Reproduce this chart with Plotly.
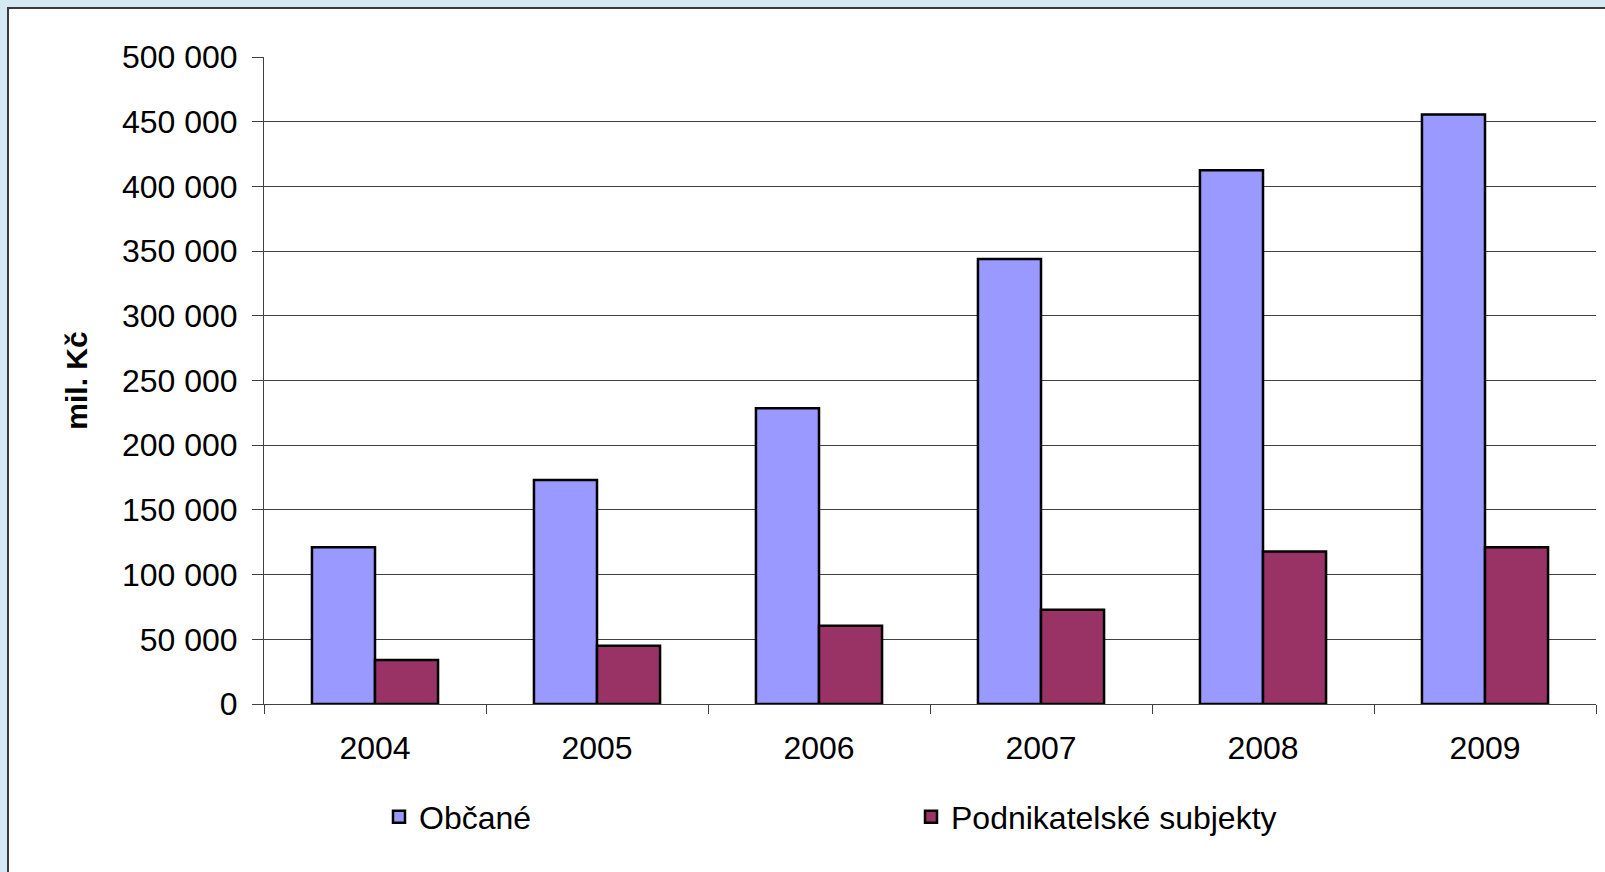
import plotly.graph_objects as go

years = ["2004", "2005", "2006", "2007", "2008", "2009"]
obcane = [121200, 173200, 228500, 343900, 412500, 455500]
podnikatelske = [34000, 45000, 60500, 72800, 117800, 121200]
y_tick_vals = [0, 50000, 100000, 150000, 200000, 250000, 300000, 350000, 400000, 450000, 500000]
y_tick_text = ["0", "50 000", "100 000", "150 000", "200 000", "250 000",
               "300 000", "350 000", "400 000", "450 000", "500 000"]

FONT = "Liberation Sans, Arial, sans-serif"
W, H = 1605, 872
L, R, T, B = 264, 9, 57, 168
pw, ph = W - L - R, H - T - B

fig = go.Figure()
fig.add_trace(go.Bar(name="Občané", x=years, y=obcane,
                     marker=dict(color="#9999FF", line=dict(color="#000000", width=2.5))))
fig.add_trace(go.Bar(name="Podnikatelské subjekty", x=years, y=podnikatelske,
                     marker=dict(color="#993366", line=dict(color="#000000", width=2.5))))

# white panel with border over light-blue background
fig.add_shape(type="rect", xref="paper", yref="paper", layer="below",
              x0=(8 - L) / pw, x1=(W + 20 - L) / pw,
              y0=(T + ph - (H + 20)) / ph, y1=(T + ph - 8) / ph,
              fillcolor="white", line=dict(color="#3a3a3a", width=2))

fig.update_layout(
    width=W, height=H,
    margin=dict(l=L, r=R, t=T, b=B),
    paper_bgcolor="#d5e9f5",
    plot_bgcolor="rgba(0,0,0,0)",
    barmode="group",
    bargap=0.432,
    bargroupgap=0,
    font=dict(family=FONT, size=32, color="#000000"),
    showlegend=True,
    legend=dict(orientation="h", x=(379 - L) / pw, xanchor="left",
                y=(T + ph - 817) / ph, yanchor="middle",
                font=dict(family=FONT, size=32, color="#000000"),
                entrywidth=487, entrywidthmode="pixels",
                bgcolor="rgba(0,0,0,0)", traceorder="normal"),
    xaxis=dict(type="category", showgrid=False, showline=True, linecolor="#404040",
               linewidth=1, ticks="outside", tickson="boundaries", ticklen=9,
               tickcolor="#404040", tickfont=dict(family=FONT, size=32),
               ticklabelstandoff=16, fixedrange=True),
    yaxis=dict(range=[0, 500000], tickvals=y_tick_vals, ticktext=y_tick_text,
               showgrid=True, gridcolor="#404040", gridwidth=1,
               showline=True, linecolor="#404040", linewidth=1,
               ticks="outside", ticklen=11, tickcolor="#404040",
               tickfont=dict(family=FONT, size=32), ticklabelstandoff=8,
               zeroline=False,
               title=dict(text="<b>mil. Kč</b>", font=dict(family=FONT, size=30),
                          standoff=25),
               fixedrange=True),
)

fig.write_html("out.html",
               config={"displayModeBar": False},
               post_script="document.body.style.margin='0';"
                           "document.body.style.overflow='hidden';"
                           "document.body.style.background='#d5e9f5';")
